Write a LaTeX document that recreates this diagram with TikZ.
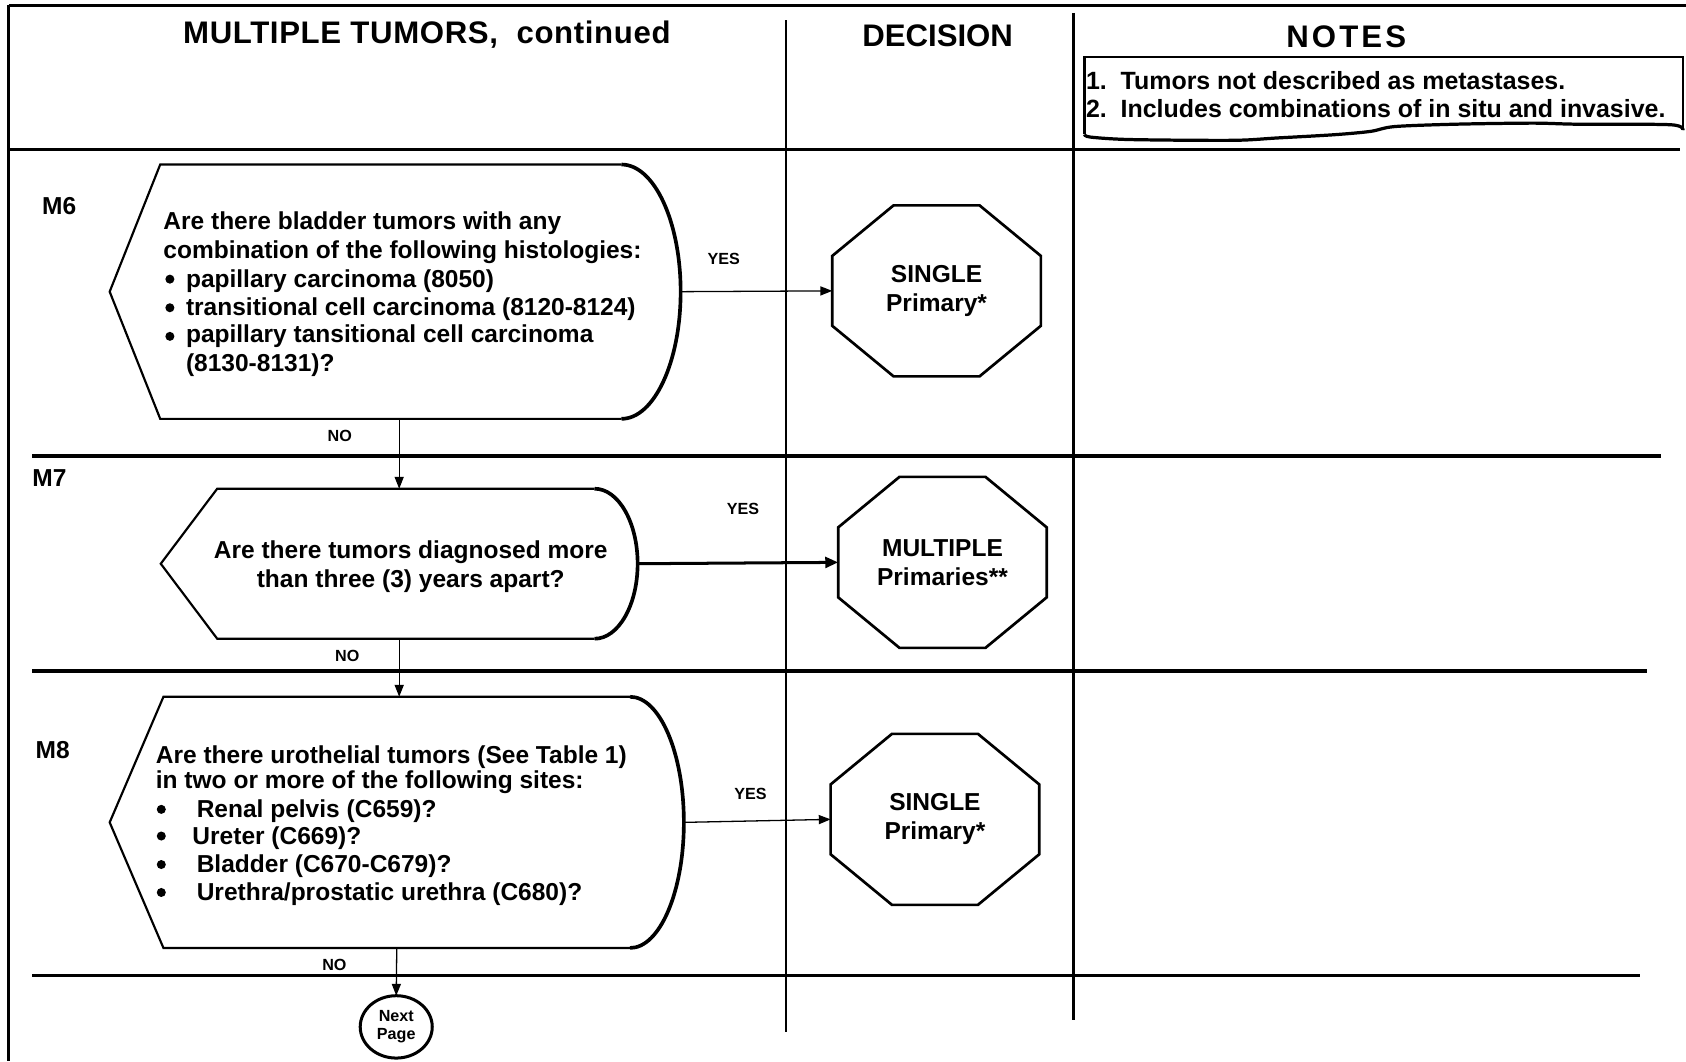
\documentclass[tikz,border=0pt]{standalone}
\usepackage{fontspec}
\setmainfont{Liberation Sans}
\usetikzlibrary{arrows.meta,calc,shapes.geometric}
\newcommand\octopath[1]{\draw[octline,shift={(#1.center)}] (-40,-79.5) -- (40,-79.5) -- (97,-32.5) -- (97,32.5) -- (40,79.5) -- (-40,79.5) -- (-97,32.5) -- (-97,-32.5) -- cycle;}
\newcommand\dispshape[5]{%
 \draw[shpline,shift={(#1.center)}] ({#2-#5},{-#3}) -- ({-#2+#4},{-#3}) -- ({-#2},0) -- ({-#2+#4},{#3}) -- ({#2-#5},{#3});
 \draw[curveline,shift={(#1.center)}] ({#2-#5},{-#3}) .. controls ({#2-0.448*#5},{-#3}) and ({#2},{-0.552*#3}) .. ({#2},0) .. controls ({#2},{0.552*#3}) and ({#2-0.448*#5},{#3}) .. ({#2-#5},{#3});
}
\begin{document}
\begin{tikzpicture}[x=0.5pt,y=-0.5pt,
 every node/.style={inner sep=0pt, outer sep=0pt},
 body/.style={anchor=base west, font=\fontsize{11.4}{13}\selectfont\bfseries},
 bodyc/.style={anchor=base, font=\fontsize{11.4}{13}\selectfont\bfseries},
 lbl/.style={font=\fontsize{7.5}{9}\selectfont\bfseries},
 rowlbl/.style={font=\fontsize{11.4}{13}\selectfont\bfseries},
 head/.style={font=\fontsize{14.5}{17}\selectfont\bfseries},
 note/.style={anchor=base west, font=\fontsize{11.6}{14}\selectfont\bfseries},
 holder/.style={draw=none, rectangle},
 octo/.style={draw=none, rectangle, minimum width=97pt, minimum height=79.5pt, align=center, font=\fontsize{11.4}{13.5}\selectfont\bfseries},
 octline/.style={line width=1.25pt, line join=miter},
 shpline/.style={line width=1pt, line join=miter},
 curveline/.style={line width=1.7pt},
 rowline/.style={line width=1.5pt},
 colline/.style={line width=1.3pt},
 frameline/.style={line width=1.1pt},
 conn/.style={line width=0.6pt, -{Triangle[length=5.5pt,width=4.2pt]}},
 bconn/.style={line width=1.4pt, -{Triangle[length=6pt,width=5pt]}},
 bul/.style={circle, fill, minimum size=4.2pt},
 ]
\useasboundingbox (0,0) rectangle (1568,987);

% frame and grid
\draw[frameline] (8,5) -- (1568,5);
\draw[frameline] (8,5) -- (8,987);
\draw[rowline] (8,139) -- (1562,139);
\draw[colline] (731,19) -- (731,960);
\draw[colline] (998,12) -- (998,949);
\draw[rowline] (30,424) -- (1545,424);
\draw[rowline] (30,624) -- (1532,624);
\draw[rowline] (30,907) -- (1525,907);

% headers
\node[head] (h1) at (397,32) {\addfontfeatures{LetterSpace=2}MULTIPLE TUMORS,\ \ continued};
\node[head] (h2) at (872,33) {DECISION};
\node[head] (h3) at (1252,34) {\addfontfeatures{LetterSpace=10}NOTES};

% notes box
\draw[line width=1pt] (1008.6,125) -- (1008.6,53) -- (1565,53) -- (1565,121);
\draw[line width=1.5pt] plot[smooth] coordinates {(1565,121) (1553.5,116) (1466.8,115.5) (1425.4,114.5) (1353.7,115.5) (1297,117.7) (1274.5,122.2) (1240.6,125.3) (1187.7,128.3) (1146.3,130.5) (1051.9,129.8) (1014.2,127.5) (1008.6,125)};
\node[note] (n1) at (1010,83.5) {1.\ \ Tumors not described as metastases.};
\node[note] (n2) at (1010,109) {2.\ \ Includes combinations of in situ and invasive.};

% row labels
\node[rowlbl] (lm6) at (55,192) {M6};
\node[rowlbl] (lm7) at (46,445) {M7};
\node[rowlbl] (lm8) at (49,698) {M8};

% decision shapes
\node[holder, minimum width=265.5pt, minimum height=118.25pt] (m6) at (367.5,271.25) {};
\dispshape{m6}{265.5}{118.25}{47}{55}
\node[holder, minimum width=221.75pt, minimum height=69.75pt] (m7) at (371.25,524.25) {};
\dispshape{m7}{221.75}{69.75}{52.5}{40}
\node[holder, minimum width=267pt, minimum height=116.8pt] (m8) at (369,764.8) {};
\dispshape{m8}{267}{116.8}{50}{50}

% M6 text
\node[body] (t61) at (152,213.5) {Are there bladder tumors with any};
\node[body] (t62) at (152,240.5) {combination of the following histologies:};
\node[bul] (b61) at (158,259.6) {};
\node[body] (t63) at (173,267) {papillary carcinoma (8050)};
\node[bul] (b62) at (158,286.2) {};
\node[body] (t64) at (173,293.5) {transitional cell carcinoma (8120-8124)};
\node[bul] (b63) at (158,312.8) {};
\node[body] (t65) at (173,318.5) {papillary tansitional cell carcinoma};
\node[body] (t66) at (173,345.5) {(8130-8131)?};

% M7 text
\node[bodyc] (t71) at (382,519.5) {Are there tumors diagnosed more};
\node[bodyc] (t72) at (382,546) {than three (3) years apart?};

% M8 text
\node[body] (t81) at (145,710.5) {Are there urothelial tumors (See Table 1)};
\node[body] (t82) at (145,733.5) {in two or more of the following sites:};
\node[bul] (b81) at (150,752.7) {};
\node[body] (t83) at (183,760) {Renal pelvis (C659)?};
\node[bul] (b82) at (150,777.5) {};
\node[body] (t84) at (179,785) {Ureter (C669)?};
\node[bul] (b83) at (150,804) {};
\node[body] (t85) at (183,811.5) {Bladder (C670-C679)?};
\node[bul] (b84) at (150,830) {};
\node[body] (t86) at (183,837.5) {Urethra/prostatic urethra (C680)?};

% outcomes
\node[octo] (o1) at (871,270.5) {SINGLE\\Primary*};
\octopath{o1}
\node[octo] (o2) at (876.5,523) {MULTIPLE\\Primaries**};
\octopath{o2}
\node[octo] (o3) at (869.5,762) {SINGLE\\Primary*};
\octopath{o3}

% next page
\node[draw, ellipse, line width=1.4pt, minimum width=33.5pt, minimum height=29pt, align=center, font=\fontsize{7.5}{8.5}\selectfont\bfseries] (np) at (368.5,955) {Next\\Page};

% connectors
\draw[conn] (m6.east) -- (o1.west);
\draw[bconn] (m7.east) -- (o2.west);
\draw[conn] (m8.east) -- (o3.west);
\draw[conn] (m6.south -| m7.north) -- (m7.north);
\draw[conn] (m7.south) -- (m7.south |- m8.north);
\draw[conn] (m8.south) -- (np.north);

% yes / no labels
\node[lbl] (y6) at (673,241) {YES};
\node[lbl] (y7) at (691,473) {YES};
\node[lbl] (y8) at (698,738) {YES};
\node[lbl] (n6) at (316,405) {NO};
\node[lbl] (n7) at (323,610) {NO};
\node[lbl] (n8) at (311,897) {NO};
\end{tikzpicture}
\end{document}
